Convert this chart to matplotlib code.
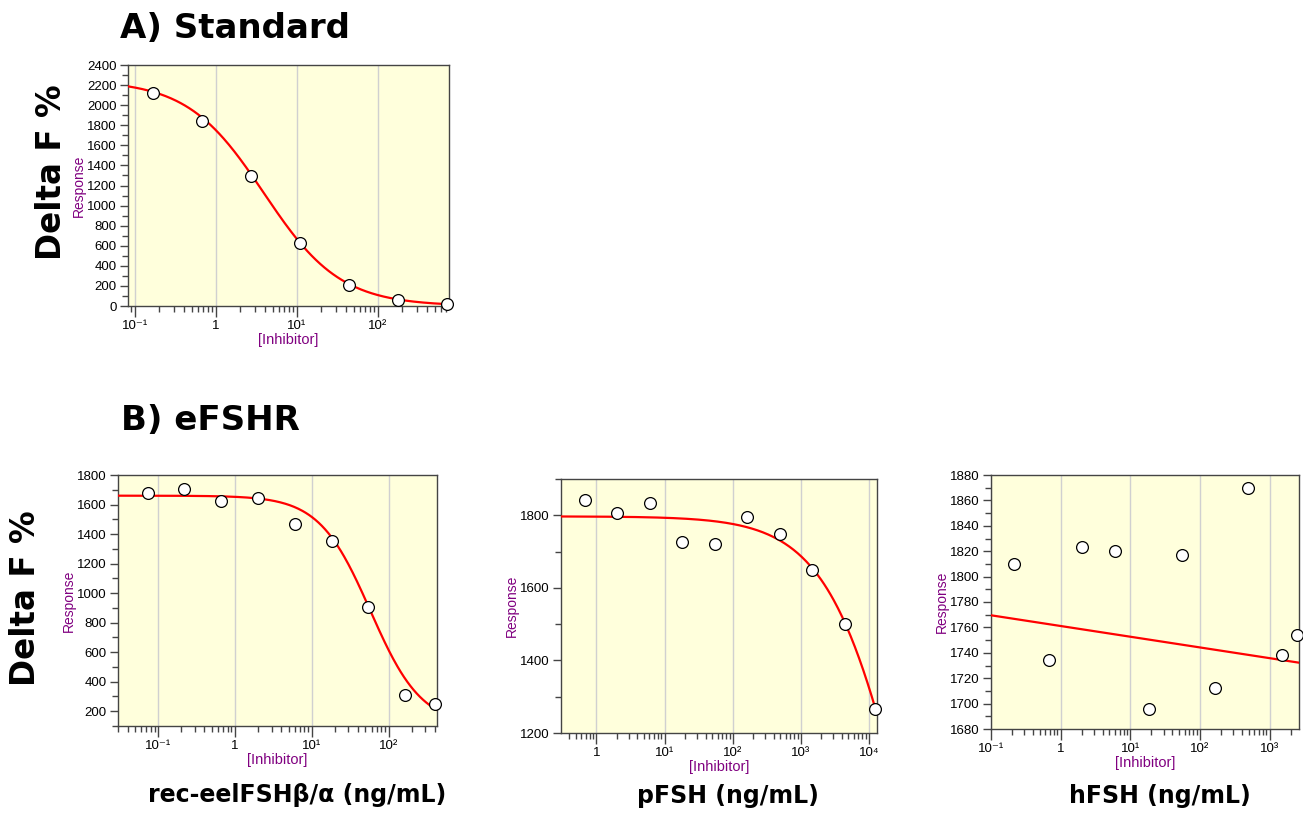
import numpy as np
import matplotlib.pyplot as plt
from matplotlib.ticker import FixedLocator, FixedFormatter, MultipleLocator, LogLocator, NullFormatter

# ---- data ----
# A) Standard
std_conc = [0.168, 0.678, 2.73, 10.9, 43.8, 175, 705]
std_resp = [2118, 1846, 1291, 624, 209, 63, 23]
std_fit = dict(top=2250, bottom=0, ic50=3.9, hill=0.92)

# B) eFSHR, rec-eelFSHb/a
rec_conc = [0.074, 0.216, 0.664, 2.01, 6.06, 18.2, 53.8, 162, 398]
rec_resp = [1681, 1703, 1627, 1645, 1469, 1356, 908, 310, 250]
rec_fit = dict(top=1660, bottom=100, ic50=58, hill=1.3)

# B) eFSHR, pFSH
pfsh_conc = [0.674, 2.03, 6.12, 18.3, 54.5, 164, 495, 1475, 4400, 12100]
pfsh_resp = [1841, 1807, 1835, 1727, 1722, 1795, 1749, 1650, 1501, 1267]
pfsh_fit = dict(top=1797, bottom=0, ic50=40350, hill=0.74)

# B) eFSHR, hFSH (fit is a straight line in log x)
hfsh_conc = [0.216, 0.672, 2.0, 6.12, 18.3, 54.5, 164, 496, 1496, 2489]
hfsh_resp = [1810, 1734, 1823, 1820, 1696, 1817, 1712, 1870, 1738, 1754]
hfsh_fit = dict(intercept=1761.1, slope=-8.44)

BG = '#FFFFDC'
PURPLE = '#800080'
TICKFONT = ['Liberation Sans', 'DejaVu Sans']
BIGFONT = ['DejaVu Sans']

plt.rcParams['font.family'] = TICKFONT


def four_pl(x, top, bottom, ic50, hill):
    return bottom + (top - bottom) / (1 + (x / ic50) ** hill)


def style_axes(ax, xlim, ylim, decades, ymajor, yminor):
    ax.set_facecolor(BG)
    ax.set_xscale('log')
    ax.set_xlim(*xlim)
    ax.set_ylim(*ylim)
    labels = []
    for d in decades:
        if d == 0:
            labels.append('1')
        elif d == -1:
            labels.append('10\u207b\u00b9')
        else:
            sup = {1: '\u00b9', 2: '\u00b2', 3: '\u00b3', 4: '\u2074'}[d]
            labels.append('10' + sup)
    ax.xaxis.set_major_locator(FixedLocator([10.0 ** d for d in decades]))
    ax.xaxis.set_major_formatter(FixedFormatter(labels))
    ax.xaxis.set_minor_locator(LogLocator(base=10, subs=np.arange(2, 10)))
    ax.xaxis.set_minor_formatter(NullFormatter())
    ax.yaxis.set_major_locator(MultipleLocator(ymajor))
    ax.yaxis.set_minor_locator(MultipleLocator(yminor))
    ax.grid(True, axis='x', which='major', color='#d0d0d0', lw=1)
    ax.set_axisbelow(True)
    for s in ax.spines.values():
        s.set_color('#444444')
        s.set_linewidth(1)
    ax.tick_params(which='major', direction='out', length=6, width=1,
                   color='#444444', labelsize=9.5, pad=2)
    ax.tick_params(which='minor', direction='out', length=4, width=1,
                   color='#444444')
    ax.tick_params(axis='x', which='major', length=8)
    ax.set_xlabel('[Inhibitor]', color=PURPLE, fontsize=10.5, labelpad=1)
    ax.set_ylabel('Response', color=PURPLE, fontsize=10, labelpad=1)


def draw(ax, conc, resp, xs, ys):
    ax.plot(xs, ys, color='#ff0000', lw=1.6, zorder=3, clip_on=True)
    ax.plot(conc, resp, 'o', ms=8.5, mfc='white', mec='black', mew=0.9,
            zorder=4, clip_on=False)


W, H = 1303, 815
fig = plt.figure(figsize=(W / 100, H / 100), dpi=100)


def box(l, r, t, b):
    return [l / W, 1 - b / H, (r - l) / W, (b - t) / H]


# A) Standard
axA = fig.add_axes(box(128, 449, 65, 306))
style_axes(axA, (0.082, 753), (0, 2400), [-1, 0, 1, 2], 200, 100)
xs = np.logspace(np.log10(0.082), np.log10(753), 300)
draw(axA, std_conc, std_resp, xs, four_pl(xs, **std_fit))

# B) rec-eelFSH
axB1 = fig.add_axes(box(118, 437, 475, 726))
style_axes(axB1, (0.030, 427), (100, 1800), [-1, 0, 1, 2], 200, 100)
xs = np.logspace(np.log10(0.030), np.log10(427), 300)
draw(axB1, rec_conc, rec_resp, xs, four_pl(xs, **rec_fit))

# B) pFSH
axB2 = fig.add_axes(box(561, 877, 479, 733))
style_axes(axB2, (0.303, 13100), (1200, 1900), [0, 1, 2, 3, 4], 200, 100)
xs = np.logspace(np.log10(0.303), np.log10(13100), 300)
draw(axB2, pfsh_conc, pfsh_resp, xs, four_pl(xs, **pfsh_fit))

# B) hFSH
axB3 = fig.add_axes(box(991, 1299, 475, 729))
style_axes(axB3, (0.1, 2640), (1680, 1880), [-1, 0, 1, 2, 3], 20, 10)
xs = np.logspace(-1, np.log10(2640), 300)
draw(axB3, hfsh_conc, hfsh_resp, xs,
     hfsh_fit['intercept'] + hfsh_fit['slope'] * np.log10(xs))

# big labels
big = dict(family=BIGFONT, fontweight='bold', color='black')
fig.text(120 / W, 1 - 28 / H, 'A) Standard', fontsize=24.5, va='center', ha='left', **big)
fig.text(121 / W, 1 - 420 / H, 'B) eFSHR', fontsize=24.5, va='center', ha='left', **big)
fig.text(52 / W, 1 - 172 / H, 'Delta F %', fontsize=23.5, rotation=90,
         va='center', ha='center', **big)
fig.text(26 / W, 1 - 598 / H, 'Delta F %', fontsize=23.5, rotation=90,
         va='center', ha='center', **big)
fig.text(297 / W, 1 - 795 / H, 'rec-eelFSH\u03b2/\u03b1 (ng/mL)', fontsize=17,
         va='center', ha='center', **big)
fig.text(728 / W, 1 - 796 / H, 'pFSH (ng/mL)', fontsize=17,
         va='center', ha='center', **big)
fig.text(1160 / W, 1 - 796 / H, 'hFSH (ng/mL)', fontsize=17,
         va='center', ha='center', **big)

fig.savefig('out.png', dpi=100)
